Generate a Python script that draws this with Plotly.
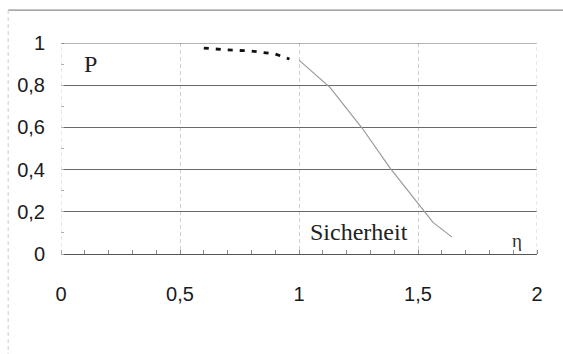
import plotly.graph_objects as go

# dashed (bold) segment of the curve
eta_dash = [0.6, 0.7, 0.8, 0.9, 0.96]
p_dash = [0.976, 0.967, 0.962, 0.948, 0.924]

# thin solid segment of the curve
eta_solid = [1.0, 1.13, 1.265, 1.382, 1.5, 1.563, 1.643]
p_solid = [0.919, 0.79, 0.597, 0.408, 0.24, 0.15, 0.08]

x_ticks = [0, 0.5, 1, 1.5, 2]
x_tick_labels = ["0", "0,5", "1", "1,5", "2"]
y_ticks = [0, 0.2, 0.4, 0.6, 0.8, 1]
y_tick_labels = ["0", "0,2", "0,4", "0,6", "0,8", "1"]

fig = go.Figure()
fig.add_trace(go.Scatter(x=eta_solid, y=p_solid, mode="lines",
                         line=dict(color="#9a9a9a", width=1.2),
                         showlegend=False, hoverinfo="skip"))
fig.add_trace(go.Scatter(x=eta_dash, y=p_dash, mode="lines",
                         line=dict(color="#111111", width=2.8, dash="5px,7px"),
                         showlegend=False, hoverinfo="skip"))

label_font = dict(family="Liberation Sans, Arial", size=20, color="#1a1a1a")
serif = "Liberation Serif, Times New Roman"

fig.update_layout(
    width=563, height=354,
    margin=dict(l=61, r=26, t=43, b=100, autoexpand=False),
    paper_bgcolor="white", plot_bgcolor="white",
    separators=", ",
    xaxis=dict(range=[0, 2], tickvals=x_ticks, ticktext=x_tick_labels, automargin=False,
               showgrid=True, gridcolor="#cfcfcf", griddash="4px,3px", gridwidth=1,
               zeroline=False, showline=True, linecolor="#555555", linewidth=1.2,
               ticks="", tickfont=label_font, ticklabelstandoff=22,
               minor=dict(dtick=0.1, ticks="inside", ticklen=4, tickcolor="#888888",
                          showgrid=False)),
    yaxis=dict(range=[0, 1], tickvals=y_ticks, ticktext=y_tick_labels, automargin=False,
               showgrid=True, gridcolor="#6a6a6a", gridwidth=1,
               zeroline=False, showline=False,
               ticks="", tickfont=label_font, ticklabelstandoff=15,
               minor=dict(dtick=0.1, ticks="inside", ticklen=3, tickcolor="#aaaaaa",
                          showgrid=False)),
    annotations=[
        dict(x=0.122, y=0.9, xref="x", yref="y", text="P", showarrow=False,
             font=dict(family=serif, size=24, color="#222222")),
        dict(x=1.252, y=0.105, xref="x", yref="y", text="Sicherheit", showarrow=False,
             font=dict(family=serif, size=24, color="#222222")),
        dict(x=1.916, y=0.065, xref="x", yref="y", text="η", showarrow=False,
             font=dict(family=serif, size=19, color="#333333")),
    ],
    shapes=[
        dict(type="line", xref="paper", yref="paper", x0=-0.111, x1=1.06, y0=1.156, y1=1.156,
             line=dict(color="#8a8a8a", width=1.2)),
        dict(type="line", xref="paper", yref="paper", x0=-0.111, x1=-0.111, y0=1.156, y1=-0.48,
             line=dict(color="#cccccc", width=1, dash="4px,3px")),
        dict(type="line", xref="x", yref="y", x0=0, x1=2, y0=1, y1=1,
             line=dict(color="#6a6a6a", width=1)),
        dict(type="line", xref="x", yref="y", x0=0, x1=0, y0=0, y1=1,
             line=dict(color="#cfcfcf", width=1, dash="4px,3px")),
        dict(type="line", xref="x", yref="y", x0=2, x1=2, y0=0, y1=1,
             line=dict(color="#cfcfcf", width=1, dash="4px,3px")),
    ],
)

fig.write_html("out.html", config={"displayModeBar": False},
               post_script="document.body.style.margin='0';document.body.style.overflow='hidden';")
